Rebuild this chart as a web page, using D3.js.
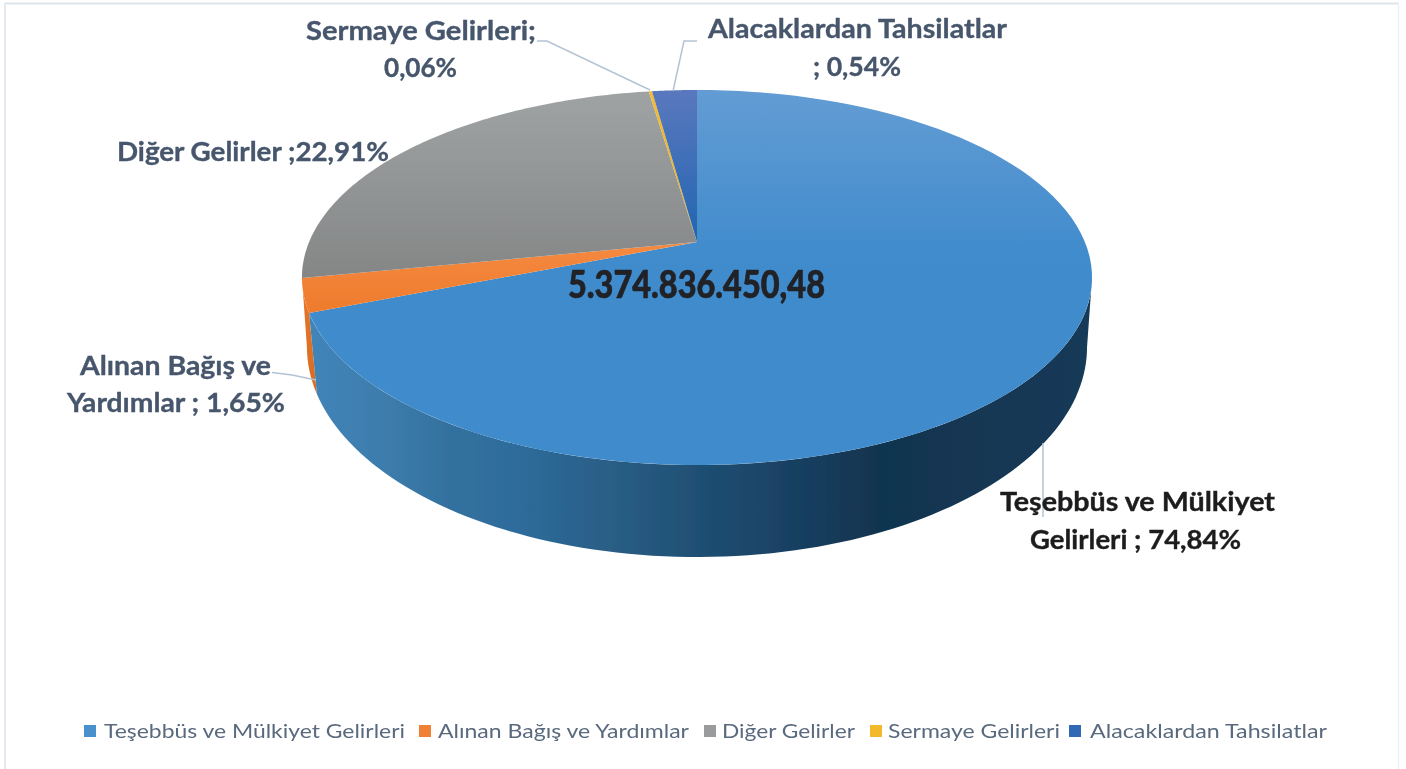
<!DOCTYPE html>
<html><head><meta charset="utf-8">
<script src="https://cdn.jsdelivr.net/npm/d3@7"></script>
<style>html,body{margin:0;padding:0;background:#fff;overflow:hidden}svg{display:block}text{font-family:Lato,"Open Sans",sans-serif}</style>
</head><body><svg id="c" width="1406" height="769"></svg>
<script>
// Data
const categories = ["Teşebbüs ve Mülkiyet Gelirleri","Alınan Bağış ve Yardımlar","Diğer Gelirler","Sermaye Gelirleri","Alacaklardan Tahsilatlar"];
const printedPercents = ["74,84%","1,65%","22,91%","0,06%","0,54%"];
// Slice sweep as actually drawn in the picture (differs from the printed labels)
const drawnShares = [69.05, 2.87, 25.72, 0.16, 2.20];
const centerTotal = "5.374.836.450,48";
const colorsLegend = ["#4a90cd","#f08035","#999b9c","#f2b92b","#3069b5"];

// Layout
const topFace = {cx:697, apexY:242, r:387.9, p:180.8, s:-0.1893};
const baseFace = {cx:697, apexY:307, r:382.9, p:202.4, s:-0.1905};
const project = (f,a)=>{const u=Math.sin(a),v=-Math.cos(a),w=1+f.s*v;return [f.cx+f.r*u/w,f.apexY+f.p*v/w];};
const rad = d=>d*Math.PI/180;

const svg = d3.select("#c");
const defs = svg.append("defs");
const blur = defs.append("filter").attr("id","soft").attr("x","-5%").attr("y","-20%").attr("width","110%").attr("height","140%");
blur.append("feGaussianBlur").attr("stdDeviation",0.55);
const edge = defs.append("filter").attr("id","edge");
edge.append("feGaussianBlur").attr("stdDeviation",0.5);

function vGrad(id,y1,y2,stops){
  const g=defs.append("linearGradient").attr("id",id).attr("gradientUnits","userSpaceOnUse").attr("x1",0).attr("x2",0).attr("y1",y1).attr("y2",y2);
  stops.forEach(s=>g.append("stop").attr("offset",s[0]).attr("stop-color",s[1]));
}
vGrad("g0",90,260,[[0,"#639cd4"],[1,"#3f8bcc"]]);
vGrad("g1",240,320,[[0,"#f58a42"],[1,"#ee7a2a"]]);
vGrad("g2",90,280,[[0,"#a0a3a4"],[1,"#848686"]]);
vGrad("g3",90,240,[[0,"#f2bd30"],[1,"#e8b020"]]);
vGrad("g4",90,240,[[0,"#5a78be"],[1,"#2265b1"]]);
const wg=defs.append("linearGradient").attr("id","wall").attr("gradientUnits","userSpaceOnUse").attr("x1",310).attr("x2",1090).attr("y1",0).attr("y2",0);
[[0,"#4284b8"],[0.09,"#3d7dad"],[0.18,"#33719f"],[0.27,"#2d6b9b"],[0.37,"#2b6088"],[0.5,"#1f4f73"],[0.6,"#1a4265"],[0.73,"#11344f"],[1,"#143a58"]].forEach(s=>wg.append("stop").attr("offset",s[0]).attr("stop-color",s[1]));
const wo=defs.append("linearGradient").attr("id","wallO").attr("gradientUnits","userSpaceOnUse").attr("x1",0).attr("x2",0).attr("y1",280).attr("y2",390);
wo.append("stop").attr("offset",0).attr("stop-color","#e8762a");wo.append("stop").attr("offset",1).attr("stop-color","#d96c20");

// Frame
const frame = svg.append("g").attr("fill","none");
frame.append("line").attr("x1",4).attr("x2",1399).attr("y1",3.5).attr("y2",3.5).attr("stroke","#dde5ea").attr("stroke-width",2);
frame.append("line").attr("x1",1398.5).attr("x2",1398.5).attr("y1",3).attr("y2",769).attr("stroke","#eef1f3").attr("stroke-width",1.5);
frame.append("line").attr("x1",5).attr("x2",5).attr("y1",3).attr("y2",769).attr("stroke","#e3e9ee").attr("stroke-width",2);

// Pie
const arcs = d3.pie().sort(null).value(d=>d)(drawnShares);
const line = d3.line();
const pts = (f,a0,a1)=>d3.range(0,101).map(i=>project(f,a0+(a1-a0)*i/100));
const pie3d = svg.append("g");

// Side walls (only the front half is visible)
const rightExtreme = rad(101), baseLag = rad(2);
const wallOf = (a0,a1,lag0,lag1)=>line(pts(topFace,a0,a1).concat(pts(baseFace,a1-lag1,a0-lag0)))+"Z";
pie3d.append("path").attr("d",wallOf(arcs[1].startAngle,arcs[1].endAngle,baseLag,0)).attr("fill","url(#wallO)").attr("filter","url(#edge)");
pie3d.append("path").attr("d",wallOf(rightExtreme,arcs[0].endAngle,0,baseLag)).attr("fill","url(#wall)").attr("filter","url(#edge)");

// Top faces
pie3d.selectAll("path.top").data(arcs).join("path").attr("class","top")
  .attr("d",d=>line([[topFace.cx,topFace.apexY]].concat(pts(topFace,d.startAngle,d.endAngle)))+"Z")
  .attr("fill",(d,i)=>`url(#g${i})`).attr("filter","url(#edge)");

// Leader lines
const leaders = [
  [[1043,443],[1043,517]],
  [[272,372.5],[292,375],[316,380]],
  [[537,41],[547,41],[650,90]],
  [[697,41],[684,41],[673,91]]
];
svg.append("g").selectAll("path").data(leaders).join("path").attr("d",d=>line(d)).attr("fill","none").attr("stroke","#b4c3d4").attr("stroke-width",1.5);

// Data labels
const slate="#46566c";
const labels = [
  {t:categories[3]+";",x:306,w:230,y:40,c:slate},
  {t:printedPercents[3],x:384,w:73,y:77,c:slate},
  {t:categories[4],x:708,w:299,y:38,c:slate},
  {t:"; "+printedPercents[4],x:813,w:88,y:76,c:slate},
  {t:categories[2]+" ;"+printedPercents[2],x:117,w:272,y:161,c:slate},
  {t:"Alınan Bağış ve",x:80,w:191,y:375,c:slate},
  {t:"Yardımlar ; "+printedPercents[1],x:67,w:218,y:412,c:slate},
  {t:"Teşebbüs ve Mülkiyet",x:1000,w:275,y:511,c:"#1c1c1e"},
  {t:"Gelirleri ; "+printedPercents[0],x:1030,w:211,y:549,c:"#1c1c1e"}
];
svg.append("g").attr("filter","url(#soft)").selectAll("text").data(labels).join("text")
  .attr("x",d=>d.x).attr("y",d=>d.y).attr("textLength",d=>d.w).attr("lengthAdjust","spacingAndGlyphs")
  .attr("font-size",26).attr("font-weight",700).attr("fill",d=>d.c).attr("stroke",d=>d.c).attr("stroke-width",0.35).text(d=>d.t);

svg.append("text").attr("x",568).attr("y",298).attr("textLength",257).attr("lengthAdjust","spacingAndGlyphs")
  .attr("font-size",38).attr("font-weight",900).attr("fill","#202226").attr("stroke","#202226").attr("stroke-width",0.6).attr("filter","url(#soft)").text(centerTotal);

// Legend
const legendSwatchX=[84,419,704,870,1069], legendTextX=[104,438,722,888,1090], legendTextW=[301,251,133,172,237];
const legend=svg.append("g").selectAll("g").data(categories).join("g");
legend.append("rect").attr("x",(d,i)=>legendSwatchX[i]).attr("y",725).attr("width",12).attr("height",12).attr("fill",(d,i)=>colorsLegend[i]).attr("filter","url(#edge)");
legend.append("text").attr("x",(d,i)=>legendTextX[i]).attr("y",738).attr("textLength",(d,i)=>legendTextW[i]).attr("lengthAdjust","spacingAndGlyphs")
  .attr("font-size",20).attr("fill","#5a6a7e").attr("filter","url(#soft)").text(d=>d);
</script></body></html>
